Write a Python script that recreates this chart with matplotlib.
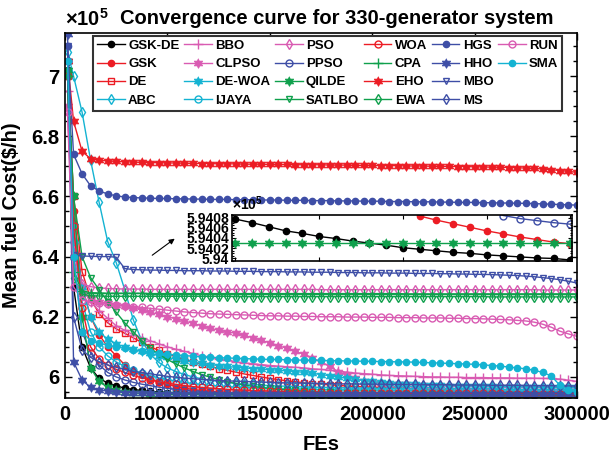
import numpy as np
import matplotlib
matplotlib.use('Agg')
import matplotlib.pyplot as plt
from matplotlib.lines import Line2D
from matplotlib.ticker import AutoMinorLocator

plt.rcParams['font.family'] = ['Liberation Sans', 'DejaVu Sans']
plt.rcParams['font.weight'] = 'bold'
plt.rcParams['mathtext.fontset'] = 'custom'
plt.rcParams['mathtext.rm'] = 'Liberation Sans'
plt.rcParams['mathtext.bf'] = 'Liberation Sans:bold'

# function evaluations (x) -- one sample every 5000 FEs
fes = np.array([1500] + list(range(5000, 300001, 5000)))

# mean fuel cost, in units of 1e5 $/h (one row = 10 samples)
gsk_de = [7.020, 6.300, 6.100, 6.030, 5.995, 5.980, 5.970, 5.963, 5.958, 5.955,
          5.952, 5.950, 5.948, 5.947, 5.946, 5.945, 5.944, 5.9435, 5.943, 5.9425,
          5.9420, 5.9418, 5.9416, 5.9415, 5.9414, 5.9413, 5.9412, 5.94115, 5.9411, 5.94105,
          5.9410, 5.94098, 5.94096, 5.94094, 5.94092, 5.9409, 5.94088, 5.94085, 5.94082, 5.9408,
          5.94077, 5.94070, 5.94062, 5.94054, 5.94049, 5.94043, 5.94039, 5.94034, 5.94030, 5.94026,
          5.94021, 5.94018, 5.94015, 5.94012, 5.94010, 5.94007, 5.94005, 5.94003, 5.94001, 5.94000, 5.93997]
gsk = [7.000, 6.550, 6.300, 6.200, 6.140, 6.100, 6.070, 6.040, 6.020, 6.005,
       5.993, 5.983, 5.975, 5.968, 5.963, 5.958, 5.955, 5.952, 5.950, 5.948,
       5.947, 5.946, 5.945, 5.944, 5.9435, 5.943, 5.9427, 5.9424, 5.9422, 5.9421,
       5.9420, 5.9419, 5.9418, 5.9417, 5.9416, 5.9415, 5.9414, 5.94135, 5.9413, 5.94125,
       5.9412, 5.94118, 5.94116, 5.94114, 5.94112, 5.9411, 5.94108, 5.94106, 5.94104, 5.94102,
       5.9410, 5.94083, 5.94075, 5.94068, 5.94061, 5.94054, 5.94048, 5.94042, 5.94037, 5.94032, 5.94029]
de = [7.000, 6.600, 6.350, 6.260, 6.210, 6.180, 6.160, 6.145, 6.130, 6.115,
      6.100, 6.088, 6.077, 6.067, 6.058, 6.050, 6.042, 6.035, 6.028, 6.022,
      6.016, 6.010, 6.005, 6.000, 5.995, 5.991, 5.987, 5.984, 5.981, 5.978,
      5.976, 5.974, 5.972, 5.970, 5.968, 5.967, 5.966, 5.965, 5.964, 5.963,
      5.962, 5.961, 5.960, 5.959, 5.958, 5.957, 5.956, 5.955, 5.954, 5.953,
      5.952, 5.951, 5.950, 5.949, 5.948, 5.948, 5.947, 5.947, 5.946, 5.946, 5.945]
abc = [7.080, 7.000, 6.880, 6.720, 6.580, 6.450, 6.380, 6.290, 6.190, 6.120,
       6.075, 6.048, 6.030, 6.018, 6.008, 6.000, 5.994, 5.989, 5.985, 5.982,
       5.979, 5.977, 5.975, 5.973, 5.971, 5.970, 5.969, 5.968, 5.967, 5.966,
       5.965, 5.965, 5.964, 5.964, 5.963, 5.963, 5.962, 5.962, 5.962, 5.961,
       5.961, 5.961, 5.960, 5.960, 5.960, 5.959, 5.959, 5.959, 5.958, 5.958,
       5.958, 5.958, 5.957, 5.957, 5.957, 5.957, 5.956, 5.956, 5.956, 5.956, 5.956]
bbo = [6.950, 6.450, 6.300, 6.250, 6.220, 6.195, 6.170, 6.155, 6.140, 6.130,
       6.120, 6.110, 6.100, 6.092, 6.085, 6.078, 6.070, 6.065, 6.060, 6.055,
       6.050, 6.047, 6.044, 6.041, 6.038, 6.036, 6.034, 6.032, 6.030, 6.027,
       6.025, 6.022, 6.019, 6.016, 6.013, 6.011, 6.009, 6.007, 6.005, 6.004,
       6.003, 6.002, 6.001, 6.000, 6.000, 5.999, 5.999, 5.998, 5.998, 5.998,
       5.997, 5.997, 5.997, 5.996, 5.996, 5.996, 5.995, 5.995, 5.993, 5.989, 5.985]
clpso = [6.900, 6.400, 6.280, 6.260, 6.250, 6.245, 6.240, 6.235, 6.230, 6.222,
         6.215, 6.208, 6.200, 6.193, 6.186, 6.178, 6.170, 6.162, 6.155, 6.150,
         6.145, 6.138, 6.130, 6.122, 6.113, 6.104, 6.095, 6.085, 6.075, 6.063,
         6.050, 6.035, 6.018, 6.005, 5.995, 5.988, 5.983, 5.980, 5.978, 5.976,
         5.975, 5.973, 5.972, 5.971, 5.970, 5.969, 5.968, 5.968, 5.967, 5.967,
         5.966, 5.966, 5.965, 5.965, 5.965, 5.964, 5.964, 5.964, 5.963, 5.963, 5.963]
de_woa = [7.050, 6.500, 6.300, 6.200, 6.150, 6.125, 6.110, 6.100, 6.092, 6.085,
          6.078, 6.071, 6.065, 6.059, 6.054, 6.049, 6.045, 6.041, 6.038, 6.035,
          6.032, 6.030, 6.028, 6.026, 6.024, 6.022, 6.020, 6.018, 6.015, 6.012,
          6.008, 6.004, 6.000, 5.996, 5.992, 5.988, 5.985, 5.982, 5.980, 5.978,
          5.976, 5.975, 5.974, 5.973, 5.972, 5.971, 5.971, 5.970, 5.970, 5.969,
          5.969, 5.968, 5.968, 5.967, 5.967, 5.966, 5.966, 5.966, 5.965, 5.965, 5.965]
ijaya = [7.000, 6.450, 6.250, 6.150, 6.100, 6.070, 6.050, 6.035, 6.022, 6.012,
         6.004, 5.997, 5.991, 5.986, 5.982, 5.978, 5.975, 5.972, 5.970, 5.968,
         5.966, 5.965, 5.964, 5.963, 5.962, 5.961, 5.960, 5.960, 5.959, 5.959,
         5.958, 5.958, 5.957, 5.957, 5.957, 5.956, 5.956, 5.956, 5.955, 5.955,
         5.955, 5.955, 5.954, 5.954, 5.954, 5.954, 5.953, 5.953, 5.953, 5.953,
         5.953, 5.952, 5.952, 5.952, 5.952, 5.952, 5.952, 5.951, 5.951, 5.951, 5.951]
pso = [6.880, 6.420, 6.310, 6.300, 6.296, 6.294, 6.293, 6.292, 6.292, 6.292,
       6.291, 6.291, 6.291, 6.291, 6.291, 6.291, 6.291, 6.291, 6.291, 6.291,
       6.291, 6.291, 6.291, 6.291, 6.291, 6.291, 6.291, 6.291, 6.291, 6.291,
       6.290, 6.290, 6.290, 6.290, 6.290, 6.290, 6.290, 6.290, 6.290, 6.290,
       6.290, 6.290, 6.290, 6.290, 6.290, 6.290, 6.290, 6.290, 6.290, 6.290,
       6.290, 6.290, 6.290, 6.290, 6.290, 6.290, 6.289, 6.289, 6.289, 6.289, 6.289]
ppso = [7.050, 6.400, 6.150, 6.080, 6.040, 6.015, 6.000, 5.990, 5.982, 5.976,
        5.971, 5.966, 5.962, 5.959, 5.956, 5.954, 5.952, 5.950, 5.948, 5.947,
        5.946, 5.945, 5.944, 5.9435, 5.943, 5.9425, 5.942, 5.9418, 5.9417, 5.9416,
        5.9416, 5.9415, 5.9414, 5.9413, 5.94125, 5.9412, 5.94118, 5.94116, 5.94114, 5.94112,
        5.9411, 5.94108, 5.94106, 5.94104, 5.94103, 5.94102, 5.94101, 5.9410, 5.94099, 5.94098,
        5.94098, 5.94097, 5.94097, 5.94096, 5.94096, 5.94095, 5.94084, 5.94078, 5.94074, 5.94070, 5.94067]
qilde = [7.020, 6.600, 6.200, 6.030, 5.985, 5.965, 5.955, 5.950, 5.947, 5.945,
         5.944, 5.943, 5.9423, 5.9418, 5.9414, 5.9411, 5.9409, 5.9407, 5.9406, 5.9405,
         5.9404, 5.94036, 5.94034, 5.94033, 5.94032, 5.94031, 5.94031, 5.9403, 5.9403, 5.9403,
         5.9403, 5.9403, 5.9403, 5.9403, 5.9403, 5.9403, 5.9403, 5.9403, 5.9403, 5.9403,
         5.9403, 5.9403, 5.9403, 5.9403, 5.9403, 5.9403, 5.9403, 5.9403, 5.9403, 5.9403,
         5.9403, 5.9403, 5.9403, 5.9403, 5.9403, 5.9403, 5.9403, 5.9403, 5.9403, 5.9403, 5.9403]
satlbo = [7.000, 6.600, 6.400, 6.330, 6.290, 6.250, 6.215, 6.180, 6.150, 6.120,
          6.095, 6.075, 6.058, 6.043, 6.030, 6.018, 6.008, 5.999, 5.991, 5.984,
          5.978, 5.973, 5.969, 5.965, 5.962, 5.959, 5.957, 5.955, 5.953, 5.951,
          5.950, 5.949, 5.948, 5.947, 5.946, 5.945, 5.945, 5.944, 5.944, 5.943,
          5.943, 5.943, 5.942, 5.942, 5.942, 5.942, 5.941, 5.941, 5.941, 5.941,
          5.941, 5.941, 5.941, 5.941, 5.941, 5.941, 5.941, 5.941, 5.941, 5.941, 5.941]
woa = [7.000, 6.500, 6.230, 6.100, 6.060, 6.040, 6.025, 6.015, 6.005, 5.997,
       5.990, 5.984, 5.979, 5.975, 5.971, 5.968, 5.965, 5.963, 5.961, 5.959,
       5.957, 5.956, 5.955, 5.954, 5.953, 5.952, 5.951, 5.950, 5.950, 5.949,
       5.949, 5.948, 5.948, 5.947, 5.947, 5.947, 5.946, 5.946, 5.946, 5.946,
       5.945, 5.945, 5.945, 5.945, 5.945, 5.945, 5.945, 5.945, 5.945, 5.945,
       5.945, 5.945, 5.944, 5.944, 5.944, 5.944, 5.944, 5.944, 5.944, 5.944, 5.944]
cpa = [7.000, 6.350, 6.285, 6.280, 6.279, 6.278, 6.278, 6.278, 6.278, 6.278,
       6.277, 6.277, 6.277, 6.277, 6.277, 6.277, 6.277, 6.277, 6.277, 6.277,
       6.277, 6.277, 6.277, 6.277, 6.277, 6.277, 6.277, 6.277, 6.277, 6.277,
       6.277, 6.277, 6.277, 6.277, 6.277, 6.277, 6.277, 6.277, 6.277, 6.277,
       6.276, 6.276, 6.276, 6.276, 6.276, 6.276, 6.276, 6.276, 6.276, 6.276,
       6.276, 6.276, 6.276, 6.276, 6.276, 6.276, 6.276, 6.276, 6.276, 6.276, 6.276]
eho = [7.050, 6.850, 6.750, 6.725, 6.720, 6.718, 6.716, 6.715, 6.714, 6.713,
       6.712, 6.712, 6.711, 6.711, 6.710, 6.710, 6.709, 6.709, 6.708, 6.708,
       6.708, 6.707, 6.707, 6.707, 6.706, 6.706, 6.706, 6.705, 6.705, 6.705,
       6.705, 6.704, 6.704, 6.704, 6.703, 6.703, 6.703, 6.702, 6.702, 6.702,
       6.701, 6.701, 6.701, 6.700, 6.700, 6.700, 6.699, 6.699, 6.698, 6.698,
       6.697, 6.697, 6.696, 6.695, 6.694, 6.693, 6.691, 6.689, 6.686, 6.683, 6.680]
ewa = [7.000, 6.330, 6.275, 6.270, 6.269, 6.268, 6.268, 6.268, 6.268, 6.268,
       6.268, 6.268, 6.268, 6.268, 6.268, 6.268, 6.268, 6.268, 6.268, 6.268,
       6.267, 6.267, 6.267, 6.267, 6.267, 6.267, 6.267, 6.267, 6.267, 6.267,
       6.267, 6.267, 6.267, 6.267, 6.267, 6.267, 6.267, 6.267, 6.267, 6.267,
       6.267, 6.267, 6.267, 6.267, 6.267, 6.267, 6.267, 6.267, 6.267, 6.267,
       6.266, 6.266, 6.266, 6.266, 6.266, 6.266, 6.266, 6.266, 6.266, 6.266, 6.266]
hgs = [7.100, 6.740, 6.675, 6.635, 6.618, 6.608, 6.602, 6.598, 6.596, 6.595,
       6.594, 6.593, 6.593, 6.592, 6.592, 6.591, 6.591, 6.590, 6.590, 6.590,
       6.589, 6.589, 6.589, 6.588, 6.588, 6.588, 6.587, 6.587, 6.587, 6.586,
       6.586, 6.586, 6.585, 6.585, 6.585, 6.584, 6.584, 6.584, 6.583, 6.583,
       6.583, 6.582, 6.582, 6.582, 6.581, 6.581, 6.580, 6.580, 6.580, 6.579,
       6.579, 6.578, 6.578, 6.577, 6.577, 6.576, 6.575, 6.574, 6.573, 6.572, 6.571]
hho = [7.140, 6.050, 5.990, 5.965, 5.957, 5.953, 5.950, 5.948, 5.947, 5.946,
       5.945, 5.9445, 5.944, 5.9437, 5.9435, 5.9433, 5.9431, 5.943, 5.9429, 5.9428,
       5.9427, 5.9426, 5.9425, 5.9425, 5.9424, 5.9424, 5.9423, 5.9423, 5.9423, 5.9422,
       5.9422, 5.9422, 5.9422, 5.9422, 5.9422, 5.9422, 5.9422, 5.9422, 5.9422, 5.9422,
       5.9421, 5.9421, 5.9421, 5.9421, 5.9421, 5.9421, 5.9421, 5.9421, 5.9421, 5.9421,
       5.9420, 5.9420, 5.9420, 5.9420, 5.9420, 5.9420, 5.9420, 5.9420, 5.9420, 5.9420, 5.9420]
mbo = [7.100, 6.405, 6.402, 6.401, 6.400, 6.400, 6.398, 6.360, 6.357, 6.356,
       6.355, 6.355, 6.354, 6.354, 6.353, 6.353, 6.353, 6.352, 6.352, 6.352,
       6.351, 6.351, 6.351, 6.350, 6.350, 6.350, 6.349, 6.349, 6.349, 6.348,
       6.348, 6.348, 6.347, 6.347, 6.347, 6.346, 6.346, 6.346, 6.345, 6.345,
       6.345, 6.344, 6.344, 6.344, 6.343, 6.343, 6.342, 6.342, 6.341, 6.341,
       6.340, 6.339, 6.338, 6.337, 6.335, 6.333, 6.330, 6.327, 6.323, 6.318, 6.312]
ms = [7.050, 6.200, 6.090, 6.065, 6.050, 6.040, 6.032, 6.025, 6.019, 6.014,
      6.010, 6.006, 6.002, 5.999, 5.996, 5.994, 5.992, 5.990, 5.988, 5.987,
      5.986, 5.985, 5.984, 5.983, 5.982, 5.981, 5.980, 5.980, 5.979, 5.979,
      5.978, 5.978, 5.977, 5.977, 5.977, 5.976, 5.976, 5.976, 5.975, 5.975,
      5.975, 5.975, 5.974, 5.974, 5.974, 5.974, 5.973, 5.973, 5.973, 5.973,
      5.972, 5.972, 5.972, 5.972, 5.971, 5.971, 5.971, 5.971, 5.970, 5.970, 5.970]
run = [6.880, 6.300, 6.255, 6.250, 6.247, 6.244, 6.240, 6.237, 6.234, 6.231,
       6.228, 6.225, 6.222, 6.219, 6.216, 6.214, 6.212, 6.210, 6.209, 6.208,
       6.207, 6.206, 6.205, 6.204, 6.203, 6.203, 6.202, 6.202, 6.201, 6.201,
       6.200, 6.200, 6.200, 6.199, 6.199, 6.199, 6.198, 6.198, 6.198, 6.197,
       6.197, 6.197, 6.196, 6.196, 6.196, 6.195, 6.195, 6.194, 6.194, 6.193,
       6.192, 6.191, 6.190, 6.188, 6.186, 6.182, 6.175, 6.165, 6.152, 6.143, 6.135]
sma = [7.050, 6.400, 6.150, 6.120, 6.112, 6.106, 6.100, 6.095, 6.090, 6.086,
       6.082, 6.079, 6.076, 6.073, 6.071, 6.069, 6.067, 6.065, 6.064, 6.063,
       6.062, 6.061, 6.060, 6.059, 6.058, 6.058, 6.057, 6.056, 6.056, 6.055,
       6.055, 6.054, 6.054, 6.053, 6.053, 6.052, 6.052, 6.051, 6.051, 6.050,
       6.050, 6.049, 6.048, 6.047, 6.046, 6.045, 6.044, 6.043, 6.042, 6.040,
       6.038, 6.036, 6.033, 6.030, 6.027, 6.022, 6.015, 6.003, 5.972, 5.958, 5.950]

names = ['GSK-DE', 'GSK', 'DE', 'ABC', 'BBO', 'CLPSO', 'DE-WOA', 'IJAYA',
         'PSO', 'PPSO', 'QILDE', 'SATLBO', 'WOA', 'CPA', 'EHO', 'EWA',
         'HGS', 'HHO', 'MBO', 'MS', 'RUN', 'SMA']
series = [gsk_de, gsk, de, abc, bbo, clpso, de_woa, ijaya,
          pso, ppso, qilde, satlbo, woa, cpa, eho, ewa,
          hgs, hho, mbo, ms, run, sma]

# names shown in the zoomed box
inset_names = ['GSK-DE', 'GSK', 'PPSO', 'QILDE']

xtick_labels = ['0', '100000', '150000', '200000', '250000', '300000']
ytick_vals = [6, 6.2, 6.4, 6.6, 6.8, 7]
ytick_labels = ['6', '6.2', '6.4', '6.6', '6.8', '7']
inset_yticks = [5.94, 5.9402, 5.9404, 5.9406, 5.9408]
inset_ylabels = ['5.94', '5.9402', '5.9404', '5.9406', '5.9408']

# colours / markers
K = '#000000'
R = '#ec1c24'
P = '#d95bb2'
C = '#14b3d2'
G = '#0fa04c'
B = '#3e4ea6'
style = {
    'GSK-DE': (K, '.'), 'GSK': (R, '.'), 'DE': (R, 's'), 'ABC': (C, 'd'),
    'BBO': (P, '+'), 'CLPSO': (P, 'hex'), 'DE-WOA': (C, 'hex'), 'IJAYA': (C, 'o'),
    'PSO': (P, 'd'), 'PPSO': (B, 'o'), 'QILDE': (G, 'hex'), 'SATLBO': (G, 'v'),
    'WOA': (R, 'o'), 'CPA': (G, '+'), 'EHO': (R, 'hex'), 'EWA': (G, 'd'),
    'HGS': (B, '.'), 'HHO': (B, 'hex'), 'MBO': (B, 'v'), 'MS': (B, 'd'),
    'RUN': (P, 'o'), 'SMA': (C, '.'),
}

# six-pointed star (MATLAB 'hexagram')
ang = np.deg2rad(np.arange(12) * 30.0 + 90)
rad = np.tile([1.0, 0.577], 6)
hexagram = list(zip(rad * np.cos(ang), rad * np.sin(ang)))


def line_kw(name):
    col, mk = style[name]
    kw = dict(color=col, lw=1.0, mew=1.0)
    if mk == '.':
        kw.update(marker='.', ms=9)
    elif mk == 'hex':
        kw.update(marker=hexagram, ms=7, mfc=col, mew=0.5)
    elif mk == '+':
        kw.update(marker='+', ms=6.5)
    else:
        kw.update(marker=mk, ms=5, mfc='none')
    return kw


W, H = 611, 458
fig = plt.figure(figsize=(W / 100, H / 100), dpi=100)
ax = fig.add_axes([65 / W, 60 / H, 512 / W, 365 / H])

handles = []
for name, vals in zip(names, series):
    h, = ax.plot(fes, vals, label=name, **line_kw(name))
    handles.append(h)

ax.set_xlim(0, 300000)
ax.set_ylim(5.930, 7.143)
ax.set_xticks(np.linspace(0, 300000, 6))
ax.set_xticklabels(xtick_labels)
ax.set_yticks(ytick_vals)
ax.set_yticklabels(ytick_labels)
ax.yaxis.set_minor_locator(AutoMinorLocator(4))
ax.tick_params(which='both', direction='in', top=True, right=True,
               labelsize=14.5, width=1.0)
ax.tick_params(which='major', length=5)
ax.tick_params(which='minor', length=3)
ax.tick_params(axis='y', pad=4)
ax.tick_params(axis='x', pad=5)
for s in ax.spines.values():
    s.set_linewidth(1.2)

ax.set_xlabel('FEs', fontsize=14.5, fontweight='bold')
ax.set_ylabel('Mean fuel Cost($/h)', fontsize=14.5, fontweight='bold')
ax.yaxis.set_label_coords(-0.086, 0.5)
ax.xaxis.set_label_coords(0.5, -0.1)

fig.text(337 / W, 1 - 19 / H, 'Convergence curve for 330-generator system',
         ha='center', va='center', fontsize=14.5, fontweight='bold')
fig.text(65 / W, 1 - 19 / H, r'$\times$10$^{\mathbf{5}}$',
         ha='left', va='center', fontsize=14.5, fontweight='bold')

# empty slot so that the last column holds only RUN and SMA
blank = Line2D([], [], linestyle='none', marker='none')
leg = ax.legend(handles + [blank], names + [''], ncol=6, loc='upper left',
                bbox_to_anchor=(0.055, 0.992), borderaxespad=0,
                prop=dict(family='Liberation Sans', weight='bold', size=9.5),
                frameon=True, fancybox=False, framealpha=1,
                edgecolor='#333333', handlelength=2.1, handletextpad=0.25,
                columnspacing=0.35, labelspacing=0.45, borderpad=0.3)
leg.get_frame().set_linewidth(1.5)

ax.annotate('', xy=(65600, 6.465), xytext=(49800, 6.399),
            arrowprops=dict(arrowstyle='-|>', color='k', lw=0.8,
                            mutation_scale=8))

# zoomed box
axins = fig.add_axes([232 / W, 1 - 261 / H, 340 / W, 46 / H])
sel = fes >= 200000
for name, vals in zip(names, series):
    if name in inset_names:
        axins.plot(fes[sel], np.array(vals)[sel], **line_kw(name))
axins.set_xlim(199000, 300500)
axins.set_ylim(5.93995, 5.94085)
axins.set_yticks(inset_yticks)
axins.set_yticklabels(inset_ylabels)
axins.set_xticks(np.linspace(200000, 300000, 5))
axins.set_xticklabels([])
axins.yaxis.set_minor_locator(AutoMinorLocator(4))
axins.tick_params(which='both', direction='in', top=True, right=True,
                  labelsize=10, width=0.8, pad=2)
axins.tick_params(which='major', length=3)
axins.tick_params(which='minor', length=1.5)
for s in axins.spines.values():
    s.set_linewidth(1.2)
axins.text(0.0, 1.04, r'$\times$10$^{\mathbf{5}}$', transform=axins.transAxes,
           ha='left', va='bottom', fontsize=10, fontweight='bold')

fig.savefig('out.png', dpi=100)
